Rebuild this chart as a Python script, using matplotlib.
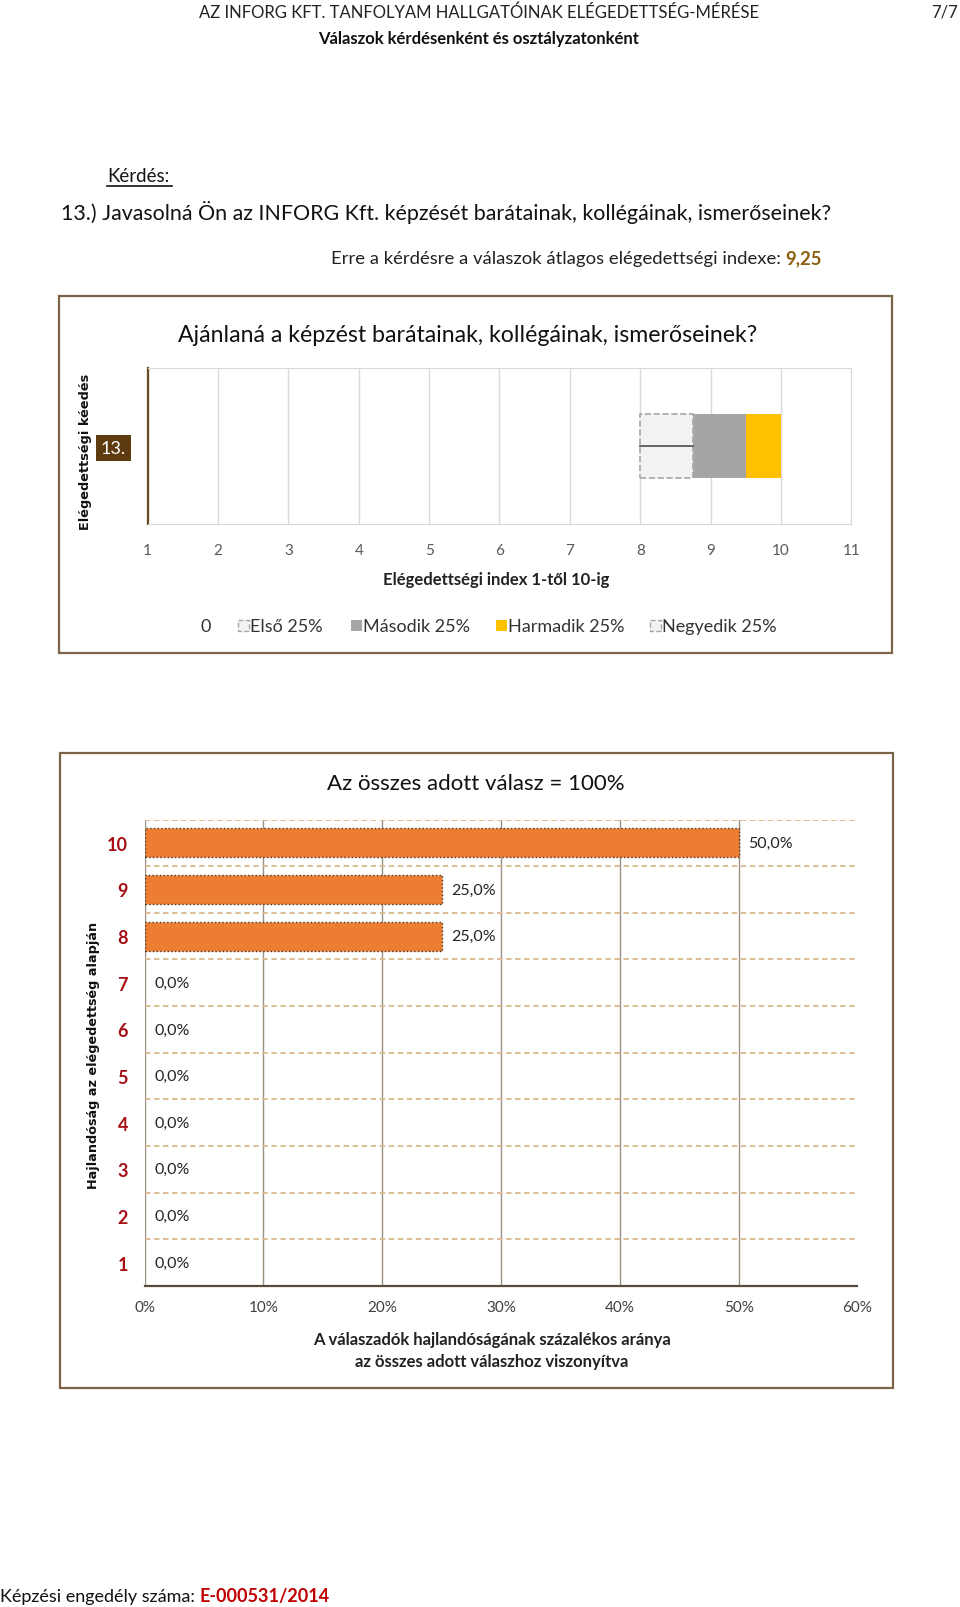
import matplotlib
matplotlib.use("Agg")
import matplotlib.pyplot as plt
from matplotlib.patches import Rectangle

plt.rcParams['font.family'] = ['Lato', 'DejaVu Sans']

W, H = 960, 1608

# ---- data ----
page_header = "AZ INFORG KFT. TANFOLYAM HALLGATÓINAK ELÉGEDETTSÉG-MÉRÉSE"
page_sub = "Válaszok kérdésenként és osztályzatonként"
page_no = "7/7"
question = "13.) Javasolná Ön az INFORG Kft. képzését barátainak, kollégáinak, ismerőseinek?"
avg_text = "Erre a kérdésre a válaszok átlagos elégedettségi indexe:"
avg_index = "9,25"
licence_text = "Képzési engedély száma: "
licence_no = "E-000531/2014"

box_title = "Ajánlaná a képzést barátainak, kollégáinak, ismerőseinek?"
box_ylabel = "Elégedettségi kéedés"
box_xlabel = "Elégedettségi index 1-től 10-ig"
box_question_id = "13."
quartile_names = ["Első 25%", "Második 25%", "Harmadik 25%", "Negyedik 25%"]
quartile_bounds = [8.0, 8.75, 9.5, 10.0, 10.0]   # min, Q1, median, Q3, max
index_ticks = list(range(1, 12))

bar_title = "Az összes adott válasz = 100%"
bar_ylabel = "Hajlandóság az elégedettség alapján"
bar_xlabel = "A válaszadók hajlandóságának százalékos aránya\naz összes adott válaszhoz viszonyítva"
grades = [1, 2, 3, 4, 5, 6, 7, 8, 9, 10]
shares = [0, 0, 0, 0, 0, 0, 0, 25, 25, 50]
share_ticks = [0, 10, 20, 30, 40, 50, 60]

fig = plt.figure(figsize=(W / 100, H / 100), dpi=100)

# overlay in pixel coordinates (origin top-left)
ov = fig.add_axes([0, 0, 1, 1])
ov.set_xlim(0, W)
ov.set_ylim(H, 0)
ov.axis('off')


def add_axes(l, t, r, b):
    return fig.add_axes([l / W, 1 - b / H, (r - l) / W, (b - t) / H])


# ---- page texts ----
ov.text(479, 13, page_header, ha='center', va='center', fontsize=12, color='#222222')
ov.text(945, 13, page_no, ha='center', va='center', fontsize=12, color='#222222')
ov.text(479, 39, page_sub, ha='center', va='center', fontsize=12, fontweight='bold', color='#111111')
ov.text(107, 176, "Kérdés:", ha='left', va='center', fontsize=13.5, color='#111111')
ov.plot([107, 172], [187, 187], color='#111111', lw=1.2)
ov.text(61, 213, question, ha='left', va='center', fontsize=15.4, color='#111111')
ov.text(781, 259, avg_text, ha='right', va='center', fontsize=13.3, color='#222222')
ov.text(785, 259, avg_index, ha='left', va='center', fontsize=13.3, fontweight='bold', color='#8B5E0F')
t1 = ov.text(0, 1597, licence_text, ha='left', va='center', fontsize=13, color='#111111')
fig.canvas.draw()
bb = t1.get_window_extent()
ov.text(bb.x1, 1597, licence_no, ha='left', va='center', fontsize=13, fontweight='bold', color='#C00000')

# ---- frames ----
frame_col = '#7a6548'
ov.add_patch(Rectangle((58.5, 296.5), 833.5, 357.5, fill=False, ec=frame_col, lw=1.6))
ov.add_patch(Rectangle((59.5, 754), 833, 634.5, fill=False, ec=frame_col, lw=1.6))

# ---- chart 1: box chart ----
ov.text(468, 335, box_title, ha='center', va='center', fontsize=16.7, color='#111111')
ov.text(86, 452, box_ylabel, ha='center', va='center', rotation=90, fontsize=9.3,
        fontweight='bold', family='DejaVu Sans', color='#111111')
ov.text(113.5, 449, box_question_id, ha='center', va='center', fontsize=13, color='white',
        bbox=dict(boxstyle='square,pad=0.25', fc='#5e3a10', ec='none'))
ov.text(496, 580, box_xlabel, ha='center', va='center', fontsize=12, fontweight='bold', color='#222222')

ax1 = add_axes(147.7, 369, 851.3, 525)
ax1.set_xlim(index_ticks[0], index_ticks[-1])
ax1.set_ylim(0, 1)
ax1.set_xticks(index_ticks)
ax1.set_yticks([])
ax1.tick_params(axis='x', length=0, pad=13.5, labelsize=11, labelcolor='#595959')
ax1.grid(axis='x', color='#d9d9d9', lw=1)
ax1.set_axisbelow(True)
for s in ['top', 'right', 'bottom']:
    ax1.spines[s].set_color('#d9d9d9')
ax1.spines['left'].set_color('#6b4a20')
ax1.spines['left'].set_linewidth(1.6)

q_styles = [
    dict(color='#f2f2f2', edgecolor='#a6a6a6', linestyle='--', linewidth=1.2),
    dict(color='#a5a5a5', edgecolor='none'),
    dict(color='#ffc000', edgecolor='none'),
    dict(color='#f2f2f2', edgecolor='#a6a6a6', linestyle='--', linewidth=1.2),
]
for i in range(4):
    left = quartile_bounds[i]
    width = quartile_bounds[i + 1] - quartile_bounds[i]
    if width > 0:
        ax1.barh(0.5, width, left=left, height=0.41, **q_styles[i])
ax1.plot([quartile_bounds[0], quartile_bounds[1]], [0.5, 0.5], color='#595959', lw=1.3)

# legend
leg_y = 627
ov.text(206, leg_y, "0", ha='center', va='center', fontsize=13, color='#333333')
leg_x = [238, 351, 496, 650]
for i, name in enumerate(quartile_names):
    st = q_styles[i]
    ov.add_patch(Rectangle((leg_x[i], leg_y - 6), 11, 11, fc=st['color'],
                           ec=st['edgecolor'], ls=st.get('linestyle', '-'), lw=1))
    ov.text(leg_x[i] + 12, leg_y, name, ha='left', va='center', fontsize=13, color='#333333')

# ---- chart 2: horizontal bars ----
ov.text(476, 784, bar_title, ha='center', va='center', fontsize=16, color='#111111')
ov.text(94, 1055, bar_ylabel, ha='center', va='center', rotation=90, fontsize=9.2,
        fontweight='bold', family='DejaVu Sans', color='#111111')
ov.text(492, 1351, bar_xlabel, ha='center', va='center', fontsize=12, fontweight='bold',
        color='#222222', linespacing=1.5)

ax2 = add_axes(144.6, 820.5, 857.4, 1287)
ax2.set_xlim(share_ticks[0], share_ticks[-1])
ax2.set_ylim(0.5, len(grades) + 0.5)
ax2.barh(grades, shares, height=0.62, color='#ed7d31',
         edgecolor=['#4a3520' if v > 0 else 'none' for v in shares],
         linewidth=1.0, linestyle=':', zorder=3)
for g, v in zip(grades, shares):
    lab = f"{v:.1f}%".replace('.', ',')
    ax2.annotate(lab, xy=(v, g), xytext=(7, 0), textcoords='offset points',
                 ha='left', va='center', fontsize=11.5, color='#222222')
ax2.set_yticks(grades)
ax2.set_yticklabels([str(g) for g in grades])
ax2.set_xticks(share_ticks)
ax2.set_xticklabels([f"{t}%" for t in share_ticks])
ax2.tick_params(axis='y', length=0, pad=12, labelsize=13, labelcolor='#a50f15')
for lab in ax2.get_yticklabels():
    lab.set_fontweight('bold')
ax2.tick_params(axis='x', length=0, pad=10, labelsize=11, labelcolor='#404040')
for t in share_ticks[:-1]:
    ax2.axvline(t, color='#9a8f80', lw=1, zorder=1)
for k in range(len(grades)):
    ax2.axhline(k + 1.5, color='#d9b98c', lw=1.3, ls=(0, (3, 2)), zorder=1)
for s in ['top', 'right', 'left']:
    ax2.spines[s].set_visible(False)
ax2.spines['bottom'].set_color('#5a4a3a')
ax2.spines['bottom'].set_linewidth(1.6)

fig.savefig('out.png', dpi=100)
